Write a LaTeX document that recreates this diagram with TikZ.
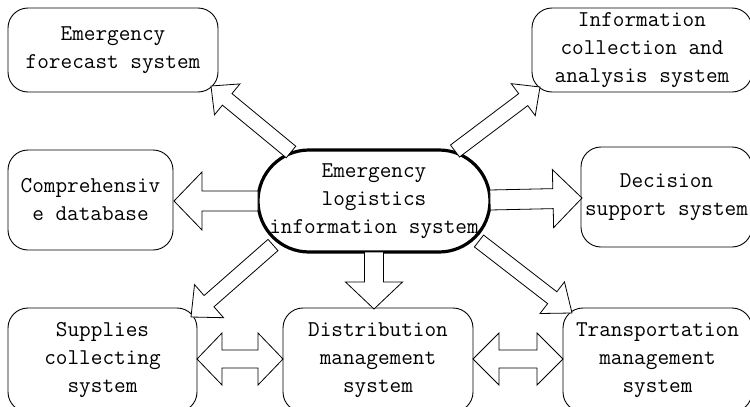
\documentclass[tikz,border=0pt]{standalone}
\usepackage{fontspec}
\usetikzlibrary{calc}
\tikzset{
  box/.style={draw, line width=0.9pt, rounded corners=20pt, fill=white, inner sep=0pt,
    align=center, font=\ttfamily\fontsize{22.6}{28}\selectfont},
  hub/.style={box, line width=3.2pt, rounded corners=51pt},
  barrow/.style={draw, fill=white, line width=0.8pt, line join=miter},
}
\newcommand\blockarr[5]{%
  \path ($(#2)!#5!(#1)$) coordinate (bh);
  \draw[barrow] ($(#1)!#3!90:(#2)$) -- ($(bh)!#3!90:(#2)$) -- ($(bh)!#4!90:(#2)$) -- (#2)
    -- ($(bh)!#4!-90:(#2)$) -- ($(bh)!#3!-90:(#2)$) -- ($(#1)!#3!-90:(#2)$) -- cycle;
}
\newcommand\dblarr[5]{%
  \path ($(#1)!#5!(#2)$) coordinate (da);
  \path ($(#2)!#5!(#1)$) coordinate (db);
  \draw[barrow] (#1) -- ($(da)!#4!90:(#2)$) -- ($(da)!#3!90:(#2)$) -- ($(db)!#3!90:(#2)$)
    -- ($(db)!#4!90:(#2)$) -- (#2) -- ($(db)!#4!-90:(#2)$) -- ($(db)!#3!-90:(#2)$)
    -- ($(da)!#3!-90:(#2)$) -- ($(da)!#4!-90:(#2)$) -- cycle;
}
\begin{document}
\begin{tikzpicture}[x=1pt,y=-1pt]
\fill[white] (0,0) rectangle (750,407);
\useasboundingbox (0,0) rectangle (750,407);

\node[box, minimum width=210pt, minimum height=84pt] (fc) at (113,50) {Emergency\\forecast system};
\node[box, minimum width=220pt, minimum height=84pt] (info) at (642,50) {Information\\collection and\\analysis system};
\node[box, minimum width=165pt, minimum height=100pt] (cmp) at (90.5,200) {Comprehensiv\\e database};
\node[box, minimum width=171pt, minimum height=100pt] (dec) at (666.5,197) {Decision\\support system};
\node[box, minimum width=189pt, minimum height=104pt] (sup) at (102.5,360) {Supplies\\collecting\\system};
\node[box, minimum width=190pt, minimum height=104pt] (dist) at (378,360) {Distribution\\management\\system};
\node[box, minimum width=189pt, minimum height=104pt] (trans) at (657.5,360) {Transportation\\management\\system};
\node[hub, minimum width=232pt, minimum height=102pt] (hubn) at (374,201) {Emergency\\logistics\\information system};

\coordinate (aUL) at (291,152); \coordinate (tUL) at (211,86);
\coordinate (aUR) at (455,151); \coordinate (tUR) at (540,87);
\coordinate (aDL) at (273,245); \coordinate (tDL) at (191,317);
\coordinate (aDR) at (479,241); \coordinate (tDR) at (572,313);
\coordinate (aL) at (258,201);  \coordinate (tL) at (174,201);
\coordinate (aR) at (490,200);  \coordinate (tR) at (582,198);
\coordinate (aD) at (374,252);  \coordinate (tD) at (374,309);
\coordinate (s1) at (197,359);  \coordinate (d1) at (283,359);
\coordinate (d2) at (473,359);  \coordinate (r2) at (563,359);

\blockarr{aUL}{tUL}{7.5pt}{20pt}{21pt}
\blockarr{aUR}{tUR}{7.5pt}{20pt}{21pt}
\blockarr{aDL}{tDL}{7.5pt}{22pt}{24pt}
\blockarr{aDR}{tDR}{7.5pt}{20pt}{25pt}
\blockarr{aL}{tL}{10pt}{29pt}{28pt}
\blockarr{aR}{tR}{10pt}{29pt}{29pt}
\blockarr{aD}{tD}{9.5pt}{28.5pt}{27pt}
\dblarr{s1}{d1}{9pt}{26pt}{25pt}
\dblarr{d2}{r2}{9pt}{26pt}{26pt}
\end{tikzpicture}
\end{document}
